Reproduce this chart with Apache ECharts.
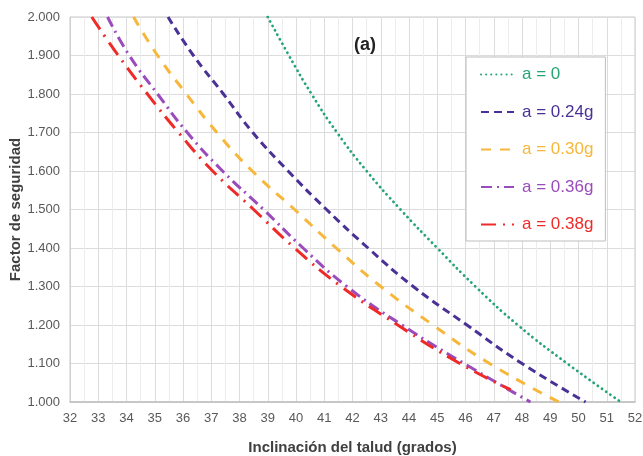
<!DOCTYPE html>
<html>
<head>
<meta charset="utf-8">
<script src="https://cdn.jsdelivr.net/npm/echarts@6/dist/echarts.min.js"></script>
<style>
  html, body { margin: 0; padding: 0; background: #fff; }
  #chart { width: 643px; height: 456px; }
</style>
</head>
<body>
<div id="chart"></div>
<script>
// niveles del factor de seguridad (eje y) donde se leyeron las curvas
var fsLevels = [2.0, 1.9, 1.8, 1.7, 1.6, 1.5, 1.4, 1.3, 1.2, 1.1, 1.0];
// inclinación (grados) para cada nivel
var slopeA0   = [39.0, 39.75, 40.55, 41.45, 42.5, 43.7, 45.0, 46.35, 47.85, 49.6, 51.5];
var slopeA024 = [35.47, 36.37, 37.43, 38.47, 39.72, 41.08, 42.55, 44.15, 46.05, 48.0, 50.25];
var slopeA030 = [34.25, 35.1, 36.12, 37.2, 38.45, 39.95, 41.42, 43.0, 44.85, 46.85, 49.3];
var slopeA036 = [33.33, 34.1, 35.1, 36.15, 37.4, 38.85, 40.25, 41.8, 43.75, 45.95, 48.3];
// la curva roja termina antes de llegar a 1.000
var fsLevelsA038 = [2.0, 1.9, 1.8, 1.7, 1.6, 1.5, 1.4, 1.3, 1.2, 1.1, 1.032];
var slopeA038 = [32.77, 33.71, 34.74, 35.84, 37.05, 38.5, 39.95, 41.6, 43.6, 45.8, 47.6];

var seriesNames = ['a = 0', 'a = 0.24g', 'a = 0.30g', 'a = 0.36g', 'a = 0.38g'];
var colors = ['#25a574', '#4a3196', '#f6b73a', '#9a4cbc', '#ee2b28'];

function pairs(xs, ys) {
  var out = [];
  for (var i = 0; i < xs.length; i++) out.push([xs[i], ys[i]]);
  return out;
}

var chart = echarts.init(document.getElementById('chart'));

var lineStyles = [
  { width: 2.8, type: [0.1, 5], cap: 'round' },
  { width: 3, type: [8, 5] },
  { width: 3, type: [10, 9] },
  { width: 3, type: [11, 5, 2, 5] },
  { width: 3, type: [15, 7, 2, 7] }
];
var dataSets = [
  pairs(slopeA0, fsLevels),
  pairs(slopeA024, fsLevels),
  pairs(slopeA030, fsLevels),
  pairs(slopeA036, fsLevels),
  pairs(slopeA038, fsLevelsA038)
];

var series = seriesNames.map(function (name, i) {
  var ls = lineStyles[i];
  ls.color = colors[i];
  return {
    name: name,
    type: 'line',
    smooth: true,
    symbol: 'none',
    lineStyle: ls,
    itemStyle: { color: colors[i] },
    data: dataSets[i]
  };
});

var option = {
  animation: false,
  textStyle: { fontFamily: 'Liberation Sans, Arial, sans-serif' },
  title: {
    text: '(a)',
    left: 349,
    top: 31,
    textStyle: {
      fontWeight: 'bold',
      fontSize: 18,
      color: '#222'
    }
  },
  legend: {
    orient: 'vertical',
    left: 466,
    top: 57,
    padding: [9, 12, 8, 14],
    itemWidth: 33,
    itemHeight: 14,
    itemGap: 20.5,
    backgroundColor: '#fff',
    borderColor: '#bdbdbd',
    borderWidth: 1,
    itemStyle: { opacity: 0 },
    data: seriesNames.map(function (n, i) {
      return { name: n, textStyle: { color: colors[i] } };
    }),
    textStyle: { fontSize: 17, padding: [0, 0, 0, 3] }
  },
  grid: {
    left: 70,
    right: 8,
    top: 17,
    bottom: 54,
    outerBoundsMode: 'none',
    show: true,
    borderColor: '#c8c8c8',
    borderWidth: 1
  },
  xAxis: {
    type: 'value',
    min: 32,
    max: 52,
    interval: 1,
    name: 'Inclinación del talud (grados)',
    nameLocation: 'middle',
    nameGap: 38,
    nameTextStyle: {
      fontWeight: 'bold',
      fontSize: 15,
      color: '#404040'
    },
    axisLine: { lineStyle: { color: '#bfbfbf', width: 1.5 } },
    axisTick: { show: false },
    axisLabel: { color: '#595959', fontSize: 13, margin: 10 },
    splitLine: { lineStyle: { color: '#dcdcdc' } },
    minorTick: { show: false, splitNumber: 2 },
    minorSplitLine: { show: true, lineStyle: { color: '#ececec' } }
  },
  yAxis: {
    type: 'value',
    min: 1,
    max: 2,
    interval: 0.1,
    name: 'Factor de seguridad',
    nameLocation: 'middle',
    nameGap: 47,
    nameMoveOverlap: false,
    nameTextStyle: {
      fontWeight: 'bold',
      fontSize: 15,
      color: '#404040'
    },
    axisLine: { show: true, lineStyle: { color: '#d0d0d0' } },
    axisTick: { show: false },
    axisLabel: {
      color: '#595959',
      fontSize: 13,
      margin: 10,
      formatter: function (v) { return v.toFixed(3); }
    },
    splitLine: { lineStyle: { color: '#dcdcdc' } }
  },
  series: series
};

chart.setOption(option);
</script>
</body>
</html>
